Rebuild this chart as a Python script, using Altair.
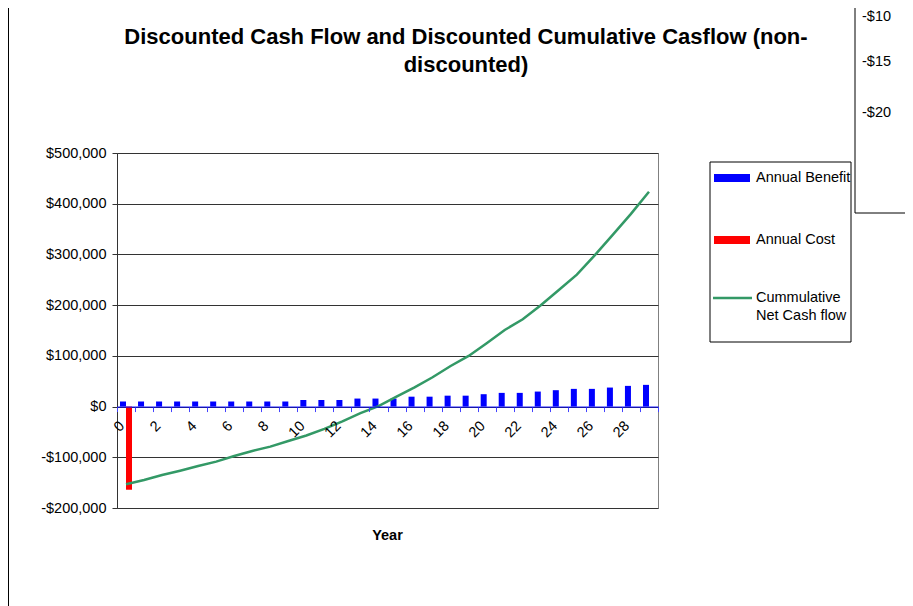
import altair as alt
import pandas as pd

FONT = "Liberation Sans"

# ---------------- data ----------------
years = [0, 1, 2, 3, 4, 5, 6, 7, 8, 9, 10, 11, 12, 13, 14,
         15, 16, 17, 18, 19, 20, 21, 22, 23, 24, 25, 26, 27, 28, 29]
annual_benefit = [10000, 10000, 10000, 10000, 10000, 10000, 10000, 10000, 10000, 10000,
                  13000, 13000, 13000, 15800, 15800, 15800, 19500, 19500, 21500, 21500,
                  24400, 27000, 27000, 29600, 32300, 34900, 34900, 37500, 40800, 42800]
annual_cost = [-164000, 0, 0, 0, 0, 0, 0, 0, 0, 0,
               0, 0, 0, 0, 0, 0, 0, 0, 0, 0,
               0, 0, 0, 0, 0, 0, 0, 0, 0, 0]
cumulative = [-153200, -144700, -134900, -126400, -117100, -108600, -97400, -87500, -79000, -67800,
              -57000, -44000, -29000, -13000, 1000, 19500, 38000, 57800, 80000, 99800,
              125000, 151000, 172100, 199700, 229900, 260000, 298500, 339000, 380000, 423700]
series_names = ["Annual Benefit", "Annual Cost"]
y_ticks = [-200000, -100000, 0, 100000, 200000, 300000, 400000, 500000]
title_lines = ["Discounted Cash Flow and Discounted Cumulative Casflow (non-", "discounted)"]
x_title = "Year"
legend_labels = ["Annual Benefit", "Annual Cost", "Cummulative", "Net Cash flow"]
other_chart_labels = ["-$10", "-$15", "-$20"]

bars = pd.DataFrame({
    "year": years + years,
    "series": [series_names[0]] * len(years) + [series_names[1]] * len(years),
    "value": annual_benefit + annual_cost,
})
line_df = pd.DataFrame({"year": years, "cum": cumulative})

W, H = 541, 355

x_enc = alt.X(
    "year:O",
    scale=alt.Scale(paddingInner=0, paddingOuter=0),
    axis=alt.Axis(
        title=None, orient="bottom", offset=-H * 200000 / 700000,
        domainColor="#0000FF", tickColor="#4444FF", tickSize=5, tickBand="extent",
        labelAngle=315, labelExpr="datum.value % 2 == 0 ? datum.label : ''",
        labelFont=FONT, labelFontSize=14.5, labelColor="black", labelPadding=7,
        labelOffset=-9, grid=False, zindex=1,
    ),
)
y_scale = alt.Scale(domain=[-200000, 500000], nice=False, zero=False)

bar_layer = alt.Chart(bars).mark_bar().encode(
    x=x_enc,
    xOffset=alt.XOffset("series:N", scale=alt.Scale(domain=series_names, paddingOuter=0.5, paddingInner=0)),
    y=alt.Y(
        "value:Q", scale=y_scale,
        axis=alt.Axis(
            title=None, values=y_ticks, grid=True, gridColor="#333333", gridWidth=1,
            domainColor="#333333", tickColor="#333333", tickSize=5,
            labelFont=FONT, labelFontSize=14.5, labelColor="black", labelPadding=6,
            labelExpr="(datum.value < 0 ? '-' : '') + '$' + format(abs(datum.value), ',')",
        ),
    ),
    color=alt.Color("series:N", scale=alt.Scale(domain=series_names, range=["#0000FF", "#FF0000"]), legend=None),
)

line_layer = alt.Chart(line_df).mark_line(color="#339966", strokeWidth=2.5).encode(
    x="year:O",
    y=alt.Y("cum:Q", scale=y_scale),
)

ONE = alt.Data(values=[{}])


def text(txt, x, y, size=14.5, bold=False, align="left"):
    return alt.Chart(ONE).mark_text(
        text=txt, align=align, baseline="middle", font=FONT, fontSize=size,
        fontWeight="bold" if bold else "normal", color="black",
    ).encode(x=alt.value(x), y=alt.value(y))


def rule(x, y, x2=None, y2=None, color="black", width=1):
    enc = {"x": alt.value(x), "y": alt.value(y)}
    if x2 is not None:
        enc["x2"] = alt.value(x2)
    if y2 is not None:
        enc["y2"] = alt.value(y2)
    return alt.Chart(ONE).mark_rule(color=color, strokeWidth=width).encode(**enc)


def rect(x, x2, y, y2, fill, stroke=None):
    kw = {"fill": fill}
    if stroke:
        kw.update(stroke=stroke, strokeWidth=1)
    return alt.Chart(ONE).mark_rect(**kw).encode(
        x=alt.value(x), x2=alt.value(x2), y=alt.value(y), y2=alt.value(y2))


decor = [
    # title
    text(title_lines[0], 349, -116, size=22, bold=True, align="center"),
    text(title_lines[1], 349, -88, size=22, bold=True, align="center"),
    # x axis title
    text(x_title, 270.5, 383, size=14.5, bold=True, align="center"),
    # legend box
    rect(593, 734, 9, 189, "white", "black"),
    rect(597, 633, 21, 29, "#0000FF"),
    text(legend_labels[0], 639, 25),
    rect(597, 633, 83, 91, "#FF0000"),
    text(legend_labels[1], 639, 87),
    rule(596, 145, x2=635, color="#339966", width=2.5),
    text(legend_labels[2], 639, 145),
    text(legend_labels[3], 639, 163),
    # neighbouring chart fragment (top right)
    rule(738, -150, y2=60),
    rule(738, 60, x2=800),
    text(other_chart_labels[0], 745, -136),
    text(other_chart_labels[1], 745, -91),
    text(other_chart_labels[2], 745, -40),
    # left border
    rule(-108.5, -150, y2=460),
]

chart = alt.layer(bar_layer, line_layer, *decor).properties(
    width=W, height=H,
    autosize=alt.AutoSizeParams(type="none"),
    padding={"left": 109, "top": 145, "right": 247, "bottom": 98},
    background="white",
).configure_view(stroke="#808080", strokeWidth=1)

chart.save("out.html", embed_options={"renderer": "svg", "actions": False})
